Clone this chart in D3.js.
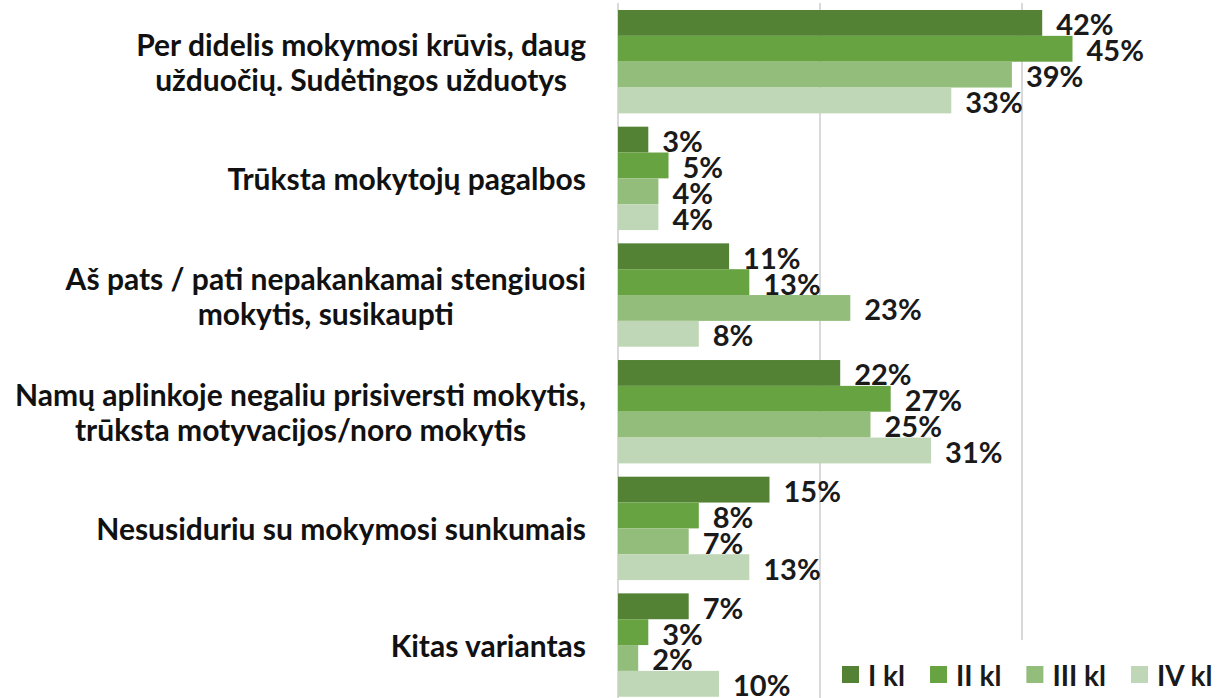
<!DOCTYPE html>
<html>
<head>
<meta charset="utf-8">
<script src="https://cdn.jsdelivr.net/npm/d3@7"></script>
<style>
	body { margin: 0; background: #fff; }
	svg { display: block; font-family: Lato, "Open Sans", sans-serif; font-weight: bold; }
</style>
</head>
<body>
<svg width="1217" height="698"></svg>
<script>
const categories = [
	["Per didelis mokymosi krūvis, daug", "užduočių. Sudėtingos užduotys"],
	["Trūksta mokytojų pagalbos"],
	["Aš pats / pati nepakankamai stengiuosi", "mokytis, susikaupti"],
	["Namų aplinkoje negaliu prisiversti mokytis,", "trūksta motyvacijos/noro mokytis"],
	["Nesusiduriu su mokymosi sunkumais"],
	["Kitas variantas"]
];
const seriesNames = ["I kl", "II kl", "III kl", "IV kl"];
const iKl = [42, 3, 11, 22, 15, 7];
const iiKl = [45, 5, 13, 27, 8, 3];
const iiiKl = [39, 4, 23, 25, 7, 2];
const ivKl = [33, 4, 8, 31, 13, 10];
const gridTicks = [0, 20, 40];

const values = [iKl, iiKl, iiiKl, ivKl];
const colors = ["#548235", "#68a342", "#93bd7b", "#bfd7b6"];

const svg = d3.select("svg");

const x = d3.scaleLinear().domain([0, 40]).range([618, 1022]);
const y0 = d3.scaleBand()
	.domain(d3.range(categories.length))
	.range([3.35, 703.4])
	.paddingInner(0.114)
	.paddingOuter(0.057);
const y1 = d3.scaleBand()
	.domain(d3.range(seriesNames.length))
	.range([0, y0.bandwidth()]);

// grid
svg.append("g")
	.selectAll("line")
	.data(gridTicks)
	.join("line")
	.attr("x1", d => x(d)).attr("x2", d => x(d))
	.attr("y1", 3).attr("y2", 698)
	.attr("stroke", "#d9d9d9")
	.attr("stroke-width", 2);

// bars
const groups = svg.append("g")
	.selectAll("g")
	.data(categories)
	.join("g")
	.attr("transform", (d, i) => `translate(0,${y0(i)})`);

groups.selectAll("rect")
	.data((d, i) => values.map((s, k) => ({ k, v: s[i] })))
	.join("rect")
	.attr("x", x(0))
	.attr("y", d => y1(d.k))
	.attr("width", d => x(d.v) - x(0))
	.attr("height", y1.bandwidth())
	.attr("fill", d => colors[d.k]);

groups.selectAll("text.val")
	.data((d, i) => values.map((s, k) => ({ k, v: s[i] })))
	.join("text")
	.attr("class", "val")
	.attr("x", d => x(d.v) + 14)
	.attr("y", d => y1(d.k) + y1.bandwidth() / 2 + 1)
	.attr("dominant-baseline", "central")
	.attr("font-size", 29)
	.attr("fill", "#1a1a1a")
	.text(d => d.v + "%");

// category labels: block right aligned, lines centred in block
const lineH = 35;
groups.each(function (lines, i) {
	const g = d3.select(this).append("g");
	const t = g.selectAll("text")
		.data(lines)
		.join("text")
		.attr("font-size", 30)
		.attr("fill", "#111")
		.attr("text-anchor", "middle")
		.attr("dominant-baseline", "central")
		.attr("y", (d, j) => y0.bandwidth() / 2 + (j - (lines.length - 1) / 2) * lineH)
		.text(d => d);
	const w = d3.max(t.nodes(), n => n.getComputedTextLength());
	t.attr("x", 586 - w / 2);
});

// legend
const legend = svg.append("g");
legend.append("rect")
	.attr("x", 830).attr("y", 640).attr("width", 387).attr("height", 58)
	.attr("fill", "#fff");
let lx = 842;
seriesNames.forEach((name, k) => {
	legend.append("rect")
		.attr("x", lx).attr("y", 666)
		.attr("width", 17).attr("height", 17)
		.attr("fill", colors[k]);
	const t = legend.append("text")
		.attr("x", lx + 26).attr("y", 675)
		.attr("dominant-baseline", "central")
		.attr("font-size", 28)
		.attr("fill", "#1a1a1a")
		.text(name);
	lx += 26 + t.node().getComputedTextLength() + 25;
});
</script>
</body>
</html>
